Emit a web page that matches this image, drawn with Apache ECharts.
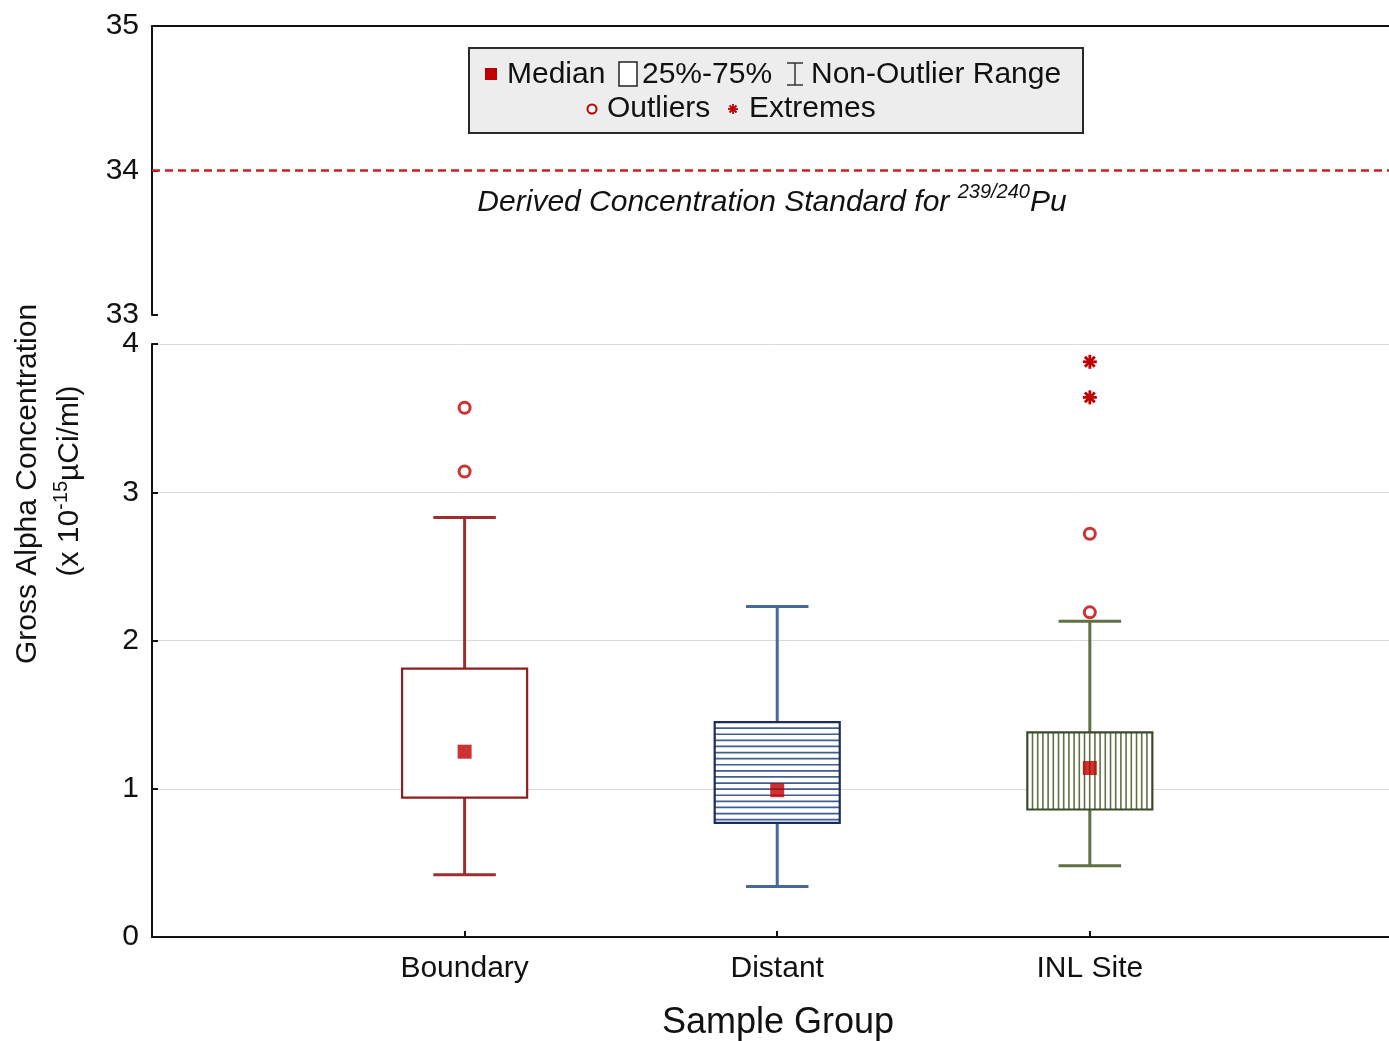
<!DOCTYPE html>
<html><head><meta charset="utf-8">
<script src="https://cdn.jsdelivr.net/npm/echarts@6/dist/echarts.min.js"></script>
<style>html,body{margin:0;padding:0;background:#fff}#c{width:1389px;height:1041px}</style>
</head><body><div id="c"></div>
<script>
const categories = ['Boundary', 'Distant', 'INL Site'];
const whiskerLow = [0.42, 0.34, 0.48];
const q1 = [0.94, 0.77, 0.86];
const medians = [1.25, 0.99, 1.14];
const q3 = [1.81, 1.45, 1.38];
const whiskerHigh = [2.83, 2.23, 2.13];
const outliers = [['Boundary', 3.57], ['Boundary', 3.14], ['INL Site', 2.72], ['INL Site', 2.19]];
const extremes = [['INL Site', 3.88], ['INL Site', 3.64]];
const lowerRange = [0, 4];
const upperRange = [33, 35];
const dcsValue = 34;
const xRange = [0, 3.957];

const FONT = '"Liberation Sans", Arial, sans-serif';
const whiskerColors = ['#9e2d2d', '#46689a', '#5f7142'];
const borderColors = ['#8c1f1f', '#1c2b5e', '#3d4a29'];
const hatchKinds = ['none', 'h', 'v'];
const RED = '#c00000';

const catPos = name => categories.indexOf(name) + 1;

const chart = echarts.init(document.getElementById('c'), null, {renderer: 'canvas'});

const boxData = categories.map((c, i) => [catPos(c), whiskerLow[i], q1[i], medians[i], q3[i], whiskerHigh[i]]);

function renderBox(params, api) {
  const i = params.dataIndex;
  const xi = api.value(0);
  const pLo = api.coord([xi, api.value(1)]);
  const pQ1 = api.coord([xi, api.value(2)]);
  const pQ3 = api.coord([xi, api.value(4)]);
  const pHi = api.coord([xi, api.value(5)]);
  const bw = api.size([1, 0])[0] * 0.4;
  const cw = bw * 0.5;
  const cx = pLo[0];
  const wc = whiskerColors[i];
  const ws = {stroke: wc, lineWidth: 3};
  const children = [
    {type: 'line', shape: {x1: cx, y1: pHi[1], x2: cx, y2: pQ3[1]}, style: ws},
    {type: 'line', shape: {x1: cx, y1: pQ1[1], x2: cx, y2: pLo[1]}, style: ws},
    {type: 'line', shape: {x1: cx - cw / 2, y1: pHi[1], x2: cx + cw / 2, y2: pHi[1]}, style: ws},
    {type: 'line', shape: {x1: cx - cw / 2, y1: pLo[1], x2: cx + cw / 2, y2: pLo[1]}, style: ws},
    {type: 'rect', shape: {x: cx - bw / 2, y: pQ3[1], width: bw, height: pQ1[1] - pQ3[1]},
      style: {fill: '#fff', stroke: 'none'}}
  ];
  const x0 = cx - bw / 2, x1 = cx + bw / 2, y0 = pQ3[1], y1 = pQ1[1];
  if (hatchKinds[i] === 'h') {
    const pitch = 6.1;
    for (let y = y0 + pitch; y < y1 - 1; y += pitch) {
      children.push({type: 'line', shape: {x1: x0, y1: y, x2: x1, y2: y}, style: {stroke: '#3f5f90', lineWidth: 1.7}});
    }
  } else if (hatchKinds[i] === 'v') {
    const pitch = 5.2;
    for (let x = x0 + pitch; x < x1 - 1; x += pitch) {
      children.push({type: 'line', shape: {x1: x, y1: y0, x2: x, y2: y1}, style: {stroke: '#5f7142', lineWidth: 1.6}});
    }
  }
  children.push({type: 'rect', shape: {x: x0, y: y0, width: bw, height: y1 - y0},
    style: {fill: 'none', stroke: borderColors[i], lineWidth: 2.2}});
  return {type: 'group', children};
}

function renderExtreme(params, api) {
  const p = api.coord([api.value(0), api.value(1)]);
  const r = 7, d = r * 0.7071;
  const st = {stroke: RED, lineWidth: 2.8};
  return {type: 'group', children: [
    {type: 'line', shape: {x1: p[0] - r, y1: p[1], x2: p[0] + r, y2: p[1]}, style: st},
    {type: 'line', shape: {x1: p[0], y1: p[1] - r, x2: p[0], y2: p[1] + r}, style: st},
    {type: 'line', shape: {x1: p[0] - d, y1: p[1] - d, x2: p[0] + d, y2: p[1] + d}, style: st},
    {type: 'line', shape: {x1: p[0] - d, y1: p[1] + d, x2: p[0] + d, y2: p[1] - d}, style: st}
  ]};
}

const tickLabel = {fontFamily: FONT, fontSize: 30, color: '#111', margin: 13, padding: [4, 0, 0, 0]};
const innerTick = {show: true, inside: true, length: 6, lineStyle: {color: '#111', width: 2}};

const option = {
  backgroundColor: '#fff',
  animation: false,
  grid: [
    {left: 152, top: 344, width: 1237, height: 593, containLabel: false, outerBoundsMode: 'none'},
    {left: 152, top: 26, width: 1237, height: 289, containLabel: false, outerBoundsMode: 'none'}
  ],
  xAxis: [
    {type: 'value', gridIndex: 0, min: xRange[0], max: xRange[1], interval: 1,
      axisLine: {lineStyle: {color: '#111', width: 2}},
      axisTick: innerTick,
      axisLabel: {fontFamily: FONT, fontSize: 30, color: '#111', margin: 17, showMaxLabel: false,
        formatter: v => (Number.isInteger(v) && categories[v - 1]) ? categories[v - 1] : ''},
      splitLine: {show: false}},
    {type: 'value', gridIndex: 1, min: xRange[0], max: xRange[1], position: 'top',
      axisLine: {onZero: false, lineStyle: {color: '#111', width: 2}},
      axisTick: {show: false}, axisLabel: {show: false}, splitLine: {show: false}}
  ],
  yAxis: [
    {type: 'value', gridIndex: 0, min: lowerRange[0], max: lowerRange[1], interval: 1,
      axisLine: {show: true, onZero: false, lineStyle: {color: '#111', width: 2}},
      axisTick: innerTick,
      axisLabel: tickLabel,
      splitLine: {show: true, lineStyle: {color: '#d9d9d9', width: 1}}},
    {type: 'value', gridIndex: 1, min: upperRange[0], max: upperRange[1], interval: 1,
      axisLine: {show: true, onZero: false, lineStyle: {color: '#111', width: 2}},
      axisTick: innerTick,
      axisLabel: tickLabel,
      splitLine: {show: false}}
  ],
  series: [
    {type: 'custom', xAxisIndex: 0, yAxisIndex: 0, data: boxData, renderItem: renderBox,
      encode: {x: 0, y: [1, 2, 3, 4, 5]}, z: 3, silent: true},
    {type: 'scatter', xAxisIndex: 0, yAxisIndex: 0, symbol: 'rect', symbolSize: 14,
      data: categories.map((c, i) => [catPos(c), medians[i]]), itemStyle: {color: RED}, z: 5, silent: true},
    {type: 'scatter', xAxisIndex: 0, yAxisIndex: 0, symbol: 'circle', symbolSize: 11,
      data: outliers.map(o => [catPos(o[0]), o[1]]), itemStyle: {color: '#fff', borderColor: RED, borderWidth: 3}, z: 5, silent: true},
    {type: 'custom', xAxisIndex: 0, yAxisIndex: 0, data: extremes.map(o => [catPos(o[0]), o[1]]), renderItem: renderExtreme,
      encode: {x: 0, y: 1}, z: 5, silent: true},
    {type: 'line', xAxisIndex: 1, yAxisIndex: 1, data: [], silent: true,
      markLine: {silent: true, symbol: 'none', animation: false,
        label: {show: false},
        lineStyle: {color: '#d01f1f', type: [8, 5], width: 2.5},
        data: [{yAxis: dcsValue}]}}
  ],
  graphic: [
    {type: 'text', x: 772, y: 200,
      style: {
        rich: {
          i: {fontFamily: FONT, fontStyle: 'italic', fontSize: 30, fill: '#111', lineHeight: 36, verticalAlign: 'bottom'},
          s: {fontFamily: FONT, fontStyle: 'italic', fontSize: 20, fill: '#111', lineHeight: 36, verticalAlign: 'top'}
        },
        text: '{i|Derived Concentration Standard for }{s|239/240}{i|Pu}',
        align: 'center', verticalAlign: 'middle'
      }, z: 20},
    {type: 'text', x: 28, y: 484, rotation: Math.PI / 2,
      style: {text: 'Gross Alpha Concentration', font: '30px ' + FONT, fill: '#111', align: 'center', verticalAlign: 'middle'}, z: 20},
    {type: 'text', x: 68, y: 481, rotation: Math.PI / 2,
      style: {
        rich: {
          a: {fontFamily: FONT, fontSize: 30, fill: '#111', lineHeight: 34, verticalAlign: 'bottom'},
          s: {fontFamily: FONT, fontSize: 20, fill: '#111', lineHeight: 34, verticalAlign: 'top'}
        },
        text: '{a|(x 10}{s|-15}{a|\u00b5Ci/ml)}',
        align: 'center', verticalAlign: 'middle'
      }, z: 20},
    {type: 'text', x: 778, y: 1023,
      style: {text: 'Sample Group', font: '36px ' + FONT, fill: '#111', align: 'center', verticalAlign: 'middle'}, z: 20},
    {type: 'group', z: 30, children: [
      {type: 'rect', shape: {x: 469, y: 48, width: 614, height: 85}, style: {fill: '#ededed', stroke: '#2a2a2a', lineWidth: 2}},
      {type: 'rect', shape: {x: 485, y: 68, width: 12, height: 12}, style: {fill: RED}},
      {type: 'text', x: 507, y: 75, style: {text: 'Median', font: '30px ' + FONT, fill: '#111', verticalAlign: 'middle'}},
      {type: 'rect', shape: {x: 619, y: 62, width: 18, height: 24}, style: {fill: '#fff', stroke: '#222', lineWidth: 1.5}},
      {type: 'text', x: 642, y: 75, style: {text: '25%-75%', font: '30px ' + FONT, fill: '#111', verticalAlign: 'middle'}},
      {type: 'line', shape: {x1: 795, y1: 63, x2: 795, y2: 85}, style: {stroke: '#333', lineWidth: 1.5}},
      {type: 'line', shape: {x1: 787, y1: 63, x2: 803, y2: 63}, style: {stroke: '#333', lineWidth: 1.5}},
      {type: 'line', shape: {x1: 787, y1: 85, x2: 803, y2: 85}, style: {stroke: '#333', lineWidth: 1.5}},
      {type: 'text', x: 811, y: 75, style: {text: 'Non-Outlier Range', font: '30px ' + FONT, fill: '#111', verticalAlign: 'middle'}},
      {type: 'circle', shape: {cx: 592, cy: 109, r: 4.5}, style: {fill: '#fff', stroke: RED, lineWidth: 2}},
      {type: 'text', x: 607, y: 109, style: {text: 'Outliers', font: '30px ' + FONT, fill: '#111', verticalAlign: 'middle'}},
      {type: 'group', x: 733, y: 109, children: [
        {type: 'line', shape: {x1: -5, y1: 0, x2: 5, y2: 0}, style: {stroke: RED, lineWidth: 1.8}},
        {type: 'line', shape: {x1: 0, y1: -5, x2: 0, y2: 5}, style: {stroke: RED, lineWidth: 1.8}},
        {type: 'line', shape: {x1: -3.5, y1: -3.5, x2: 3.5, y2: 3.5}, style: {stroke: RED, lineWidth: 1.8}},
        {type: 'line', shape: {x1: -3.5, y1: 3.5, x2: 3.5, y2: -3.5}, style: {stroke: RED, lineWidth: 1.8}}
      ]},
      {type: 'text', x: 749, y: 109, style: {text: 'Extremes', font: '30px ' + FONT, fill: '#111', verticalAlign: 'middle'}}
    ]}
  ]
};
chart.setOption(option);
</script>
</body></html>
